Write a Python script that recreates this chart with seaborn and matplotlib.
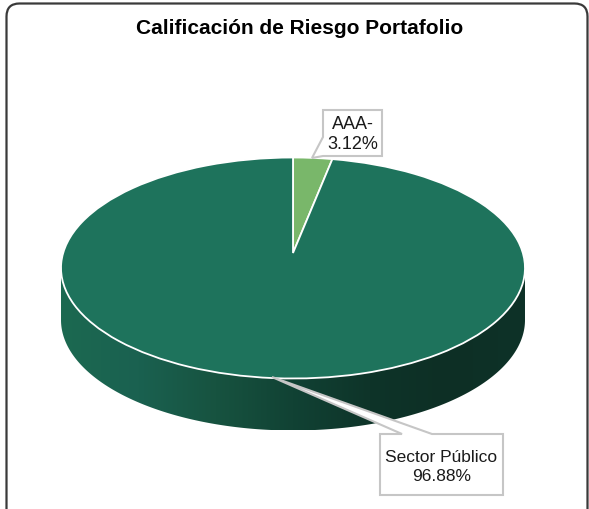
import numpy as np
import matplotlib
matplotlib.use('Agg')
import matplotlib.pyplot as plt
from matplotlib.colors import LinearSegmentedColormap
from matplotlib.patches import FancyBboxPatch, Polygon
import seaborn as sns

categories = ['AAA-', 'Sector Público']
shares = [3.12, 96.88]
title = 'Calificación de Riesgo Portafolio'

slice_colors = sns.color_palette(['#79B76A', '#1E735C'])
wall_colors = ['#1C6951', '#1A6150', '#175340', '#114234', '#0E3429', '#0D2F25', '#0E3228']

sns.set_style('white')
plt.rcParams['font.family'] = ['Liberation Sans', 'DejaVu Sans']

W, H = 589, 509
# elipse de la cara superior, en pixeles
CX, CY, RX, RY = 293, 268, 232, 110.5
DEPTH = 52
APEX_UP = 15 / RY     # el vertice de la perspectiva queda por encima del centro
SQUEEZE = 0.87        # la perspectiva encoge la porcion del fondo

fig = plt.figure(figsize=(W / 100, H / 100), dpi=100)

# --- fondo: marco y pared lateral ---
bg = fig.add_axes([0, 0, 1, 1], zorder=1)
bg.set_xlim(0, W)
bg.set_ylim(H, 0)
bg.axis('off')
bg.add_patch(FancyBboxPatch((6.5, 3.5), 581, 530, boxstyle='round,pad=0,rounding_size=13',
                            fc='white', ec='#3a3a3a', lw=1.6, clip_on=True))

t = np.linspace(np.pi, 0, 200)
ex, ey = CX + RX * np.cos(t), CY + RY * np.sin(t)
wall = np.column_stack([np.r_[ex, ex[::-1]], np.r_[ey + DEPTH, ey[::-1]]])
cmap = LinearSegmentedColormap.from_list('wall', wall_colors)
im = bg.imshow(np.linspace(0, 1, 256)[None, :], cmap=cmap, aspect='auto',
               extent=[CX - RX, CX + RX, CY + RY + DEPTH, CY], zorder=2)
im.set_clip_path(Polygon(wall, transform=bg.transData))
bg.set_xlim(0, W)
bg.set_ylim(H, 0)

# --- cara superior ---
ax = fig.add_axes([(CX - RX) / W, 1 - (CY + RY) / H, 2 * RX / W, 2 * RY / H], zorder=2)
wedges, _ = ax.pie(shares, colors=slice_colors, startangle=90, counterclock=False,
                   radius=1, frame=False, wedgeprops=dict(ec='white', lw=1.3))
ax.set_aspect('auto')
ax.set_xlim(-1, 1)
ax.set_ylim(-1, 1)
ax.axis('off')

phi1 = shares[0] / sum(shares) * 360
for w in wedges:
    v = w.get_path().vertices.copy()
    r = np.hypot(v[:, 0], v[:, 1])
    phi = np.degrees(np.arctan2(v[:, 0], v[:, 1]))
    if w is wedges[0]:
        phi2 = phi * SQUEEZE
    else:
        phi = np.where(phi < -1e-6, phi + 360, phi)
        phi2 = SQUEEZE * phi1 + (phi - phi1) * (360 - SQUEEZE * phi1) / (360 - phi1)
    v[:, 0] = r * np.sin(np.radians(phi2))
    v[:, 1] = r * np.cos(np.radians(phi2))
    v[r < 1e-6, 1] = APEX_UP
    w.get_path().vertices = v

# --- etiquetas ---
over = fig.add_axes([0, 0, 1, 1], zorder=3)
over.set_xlim(0, W)
over.set_ylim(H, 0)
over.axis('off')
over.patch.set_alpha(0)

callouts = [
    [(323, 110), (382, 110), (382, 156), (323, 156), (312, 158), (323, 137)],
    [(380, 434), (402, 434), (272, 377), (432, 434), (503, 434), (503, 495), (380, 495)],
]
centers = [(352.5, 134.5), (441.5, 467)]
font_sizes = [13, 12.5]
line_gaps = [1.25, 1.35]
for pts, (x, y), name, share, fs, gap in zip(callouts, centers, categories, shares, font_sizes, line_gaps):
    over.add_patch(Polygon(pts, closed=True, fc='white', ec='#c6c6c6', lw=1.5, joinstyle='miter'))
    over.text(x, y, f'{name}\n{share:.2f}%', ha='center', va='center', fontsize=fs,
              color='#1a1a1a', linespacing=gap)

over.text(299.5, 28, title, ha='center', va='center', fontsize=15, fontweight='bold', color='black')

fig.savefig('out.png', dpi=100)
